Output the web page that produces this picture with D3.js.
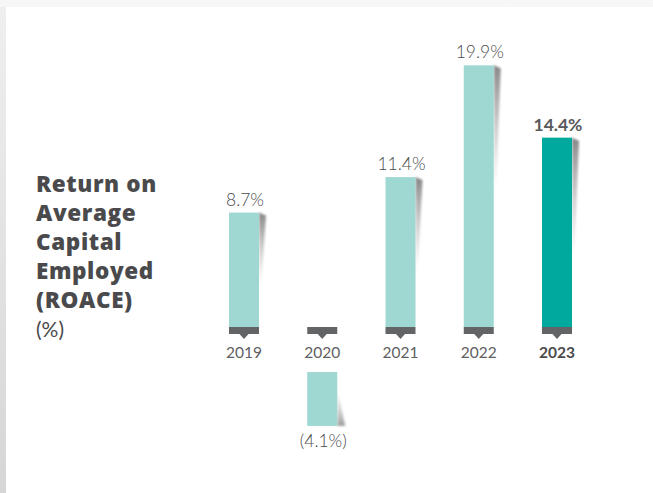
<!DOCTYPE html>
<html>
<head>
<meta charset="utf-8">
<script src="https://cdn.jsdelivr.net/npm/d3@7"></script>
<style>
  html, body { margin: 0; padding: 0; background: #fff; }
  svg { display: block; }
</style>
</head>
<body>
<svg id="chart" width="653" height="493"></svg>
<script>
// ROACE by year (%)
const years = ["2019", "2020", "2021", "2022", "2023"];
const roace = [8.7, -4.1, 11.4, 19.9, 14.4];
const valueLabels = ["8.7%", "(4.1%)", "11.4%", "19.9%", "14.4%"];
const titleLines = ["Return on", "Average", "Capital", "Employed", "(ROACE)"];
const unitLine = "(%)";
const highlightYear = "2023";

const W = 653, H = 493;
const svg = d3.select("#chart");
const defs = svg.append("defs");

// page backdrop: soft grey edges around a white card
const topGrad = defs.append("linearGradient").attr("id", "topEdge")
  .attr("x1", 0).attr("y1", 0).attr("x2", 0).attr("y2", 1);
topGrad.append("stop").attr("offset", 0).attr("stop-color", "#f7f7f7");
topGrad.append("stop").attr("offset", 1).attr("stop-color", "#efefef");
const leftGrad = defs.append("linearGradient").attr("id", "leftEdge")
  .attr("x1", 0).attr("y1", 0).attr("x2", 0).attr("y2", 1);
leftGrad.append("stop").attr("offset", 0).attr("stop-color", "#efefef");
leftGrad.append("stop").attr("offset", 1).attr("stop-color", "#d6d6d6");

svg.append("rect").attr("width", W).attr("height", H).attr("fill", "url(#topEdge)");
svg.append("rect").attr("x", 0).attr("y", 7).attr("width", 6).attr("height", H - 7)
  .attr("fill", "url(#leftEdge)");
svg.append("rect").attr("x", 6).attr("y", 7).attr("width", W - 6).attr("height", H - 7)
  .attr("fill", "#ffffff");

// shadow styling for the bars
const blur = defs.append("filter").attr("id", "soft")
  .attr("x", "-50%").attr("y", "-20%").attr("width", "200%").attr("height", "140%");
blur.append("feGaussianBlur").attr("stdDeviation", 1.2);
const shDown = defs.append("linearGradient").attr("id", "shDown")
  .attr("x1", 0).attr("y1", 0).attr("x2", 0).attr("y2", 1);
shDown.append("stop").attr("offset", 0).attr("stop-color", "#7a7a7a").attr("stop-opacity", 0.9);
shDown.append("stop").attr("offset", 1).attr("stop-color", "#bdbdbd").attr("stop-opacity", 0);
const shUp = defs.append("linearGradient").attr("id", "shUp")
  .attr("x1", 0).attr("y1", 1).attr("x2", 0).attr("y2", 0);
shUp.append("stop").attr("offset", 0).attr("stop-color", "#8f8f8f").attr("stop-opacity", 0.85);
shUp.append("stop").attr("offset", 1).attr("stop-color", "#c8c8c8").attr("stop-opacity", 0);

// scales
const x = d3.scalePoint().domain(years).range([244, 557]);
const y = d3.scaleLinear().domain([0, 20]).range([327, 64]);
const barW = 30;
const negGap = 45;   // negative bars sit below the year label

const data = years.map((yr, i) => ({ year: yr, value: roace[i], label: valueLabels[i] }));

const lightFill = "#9fd8d2", strongFill = "#00a99d", tabFill = "#636466", textCol = "#58595b";

const g = svg.append("g");

data.forEach(d => {
  const cx = x(d.year);
  const x0 = cx - barW / 2, x1 = cx + barW / 2;
  const hl = d.year === highlightYear;
  let top, bottom;
  if (d.value >= 0) {
    top = y(d.value); bottom = y(0);
    const h = bottom - top;
    const len = Math.min(h * 0.55, 110);
    g.append("path")
      .attr("d", `M${x1},${top} L${x1 + 7},${top + 3} L${x1 + 3},${top + len} L${x1},${top + len * 1.2} Z`)
      .attr("fill", "url(#shDown)").attr("filter", "url(#soft)");
  } else {
    top = y(0) + negGap;
    bottom = top + (y(0) - y(-d.value));
    g.append("path")
      .attr("d", `M${x1},${bottom - 38} L${x1 + 8},${bottom} L${x1},${bottom} Z`)
      .attr("fill", "url(#shUp)").attr("filter", "url(#soft)");
  }
  g.append("rect")
    .attr("x", x0).attr("y", top).attr("width", barW).attr("height", bottom - top)
    .attr("fill", hl ? strongFill : lightFill);

  // value label
  g.append("text")
    .attr("x", cx + 1)
    .attr("y", d.value >= 0 ? top - 7 : bottom + 21)
    .attr("text-anchor", "middle")
    .attr("font-family", "Lato, sans-serif")
    .attr("font-size", 17.5)
    .attr("font-weight", hl ? 700 : 300)
    .attr("fill", hl ? textCol : "#4a4a4c")
    .text(d.label);

  // axis tab with pointer
  const base = y(0);
  g.append("rect").attr("x", x0).attr("y", base).attr("width", barW).attr("height", 7)
    .attr("fill", tabFill);
  g.append("path")
    .attr("d", `M${cx - 4.5},${base + 7} L${cx + 4.5},${base + 7} L${cx},${base + 12} Z`)
    .attr("fill", tabFill);

  // year label
  g.append("text")
    .attr("x", cx)
    .attr("y", 358)
    .attr("text-anchor", "middle")
    .attr("font-family", "Lato, sans-serif")
    .attr("font-size", 15.5)
    .attr("font-weight", hl ? 700 : 400)
    .attr("fill", hl ? "#4a4a4c" : "#606062")
    .text(d.year);
});

// side title
const title = svg.append("g").attr("transform", "translate(36,0)");
titleLines.forEach((t, i) => {
  title.append("text")
    .attr("x", 0).attr("y", 191.7 + i * 29)
    .attr("font-family", "'Open Sans', sans-serif")
    .attr("font-size", 22.5)
    .attr("font-weight", 800)
    .attr("letter-spacing", 0.6)
    .attr("fill", "#4a4a4c")
    .text(t);
});
title.append("text")
  .attr("x", 0).attr("y", 191.7 + titleLines.length * 29)
  .attr("font-family", "Lato, sans-serif")
  .attr("font-size", 21)
  .attr("font-weight", 400)
  .attr("fill", "#4a4a4c")
  .text(unitLine);
</script>
</body>
</html>
